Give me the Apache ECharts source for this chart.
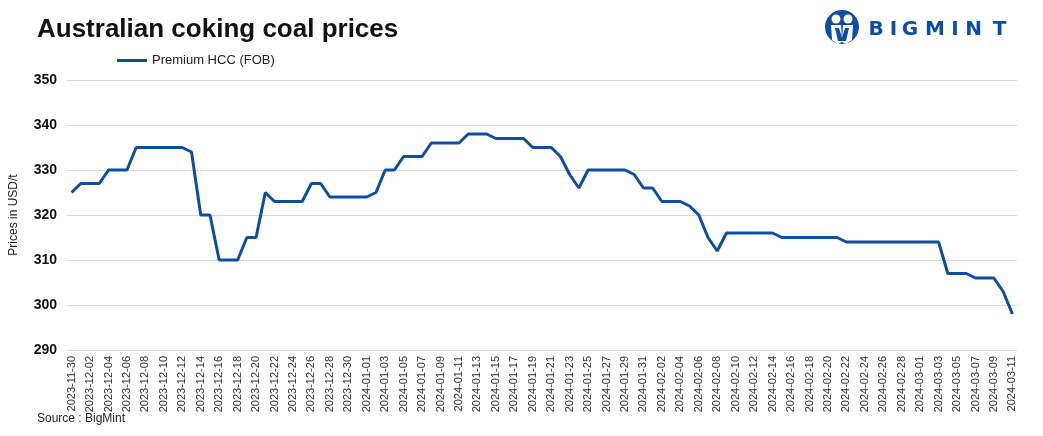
<!DOCTYPE html>
<html><head><meta charset="utf-8">
<script src="https://cdn.jsdelivr.net/npm/echarts@6/dist/echarts.min.js"></script>
<style>html,body{margin:0;padding:0;background:#fff}#c{width:1043px;height:436px}</style>
</head><body><div id="c"></div>
<script>
const startDate = '2023-11-30';
const dayCount = 103;
const seriesName = 'Premium HCC (FOB)';
const prices = [325,327,327,327,330,330,330,335,335,335,335,335,335,334,320,320,310,310,310,315,315,325,323,323,323,323,327,327,324,324,324,324,324,325,330,330,333,333,333,336,336,336,336,338,338,338,337,337,337,337,335,335,335,333,329,326,330,330,330,330,330,329,326,326,323,323,323,322,320,315,312,316,316,316,316,316,316,315,315,315,315,315,315,315,314,314,314,314,314,314,314,314,314,314,314,307,307,307,306,306,306,303,298];
const yTicks = [290,300,310,320,330,340,350];
const logoLetters = ['B','I','G','M','I','N','T'];

function buildDates(start, n){
  const out=[]; const d=new Date(start+'T00:00:00Z');
  for(let i=0;i<n;i++){ const x=new Date(d.getTime()+i*86400000); out.push(x.toISOString().slice(0,10)); }
  return out;
}
const categories = buildDates(startDate, dayCount);

const chart = echarts.init(document.getElementById('c'));
const blue = '#0b4ea2';
const letterX = [876,893.5,910,935,955,973.5,999.5];
const logoText = logoLetters.map((ch,i)=>({type:'text',x:letterX[i],y:30,style:{text:ch,fontSize:20,fontWeight:'bold',fill:blue,align:'center',verticalAlign:'middle',fontFamily:'DejaVu Sans, Arial, sans-serif'}}));
chart.setOption({
  animation:false,
  textStyle:{fontFamily:'Liberation Sans, Arial, sans-serif'},
  title:{text:'Australian coking coal prices',left:32,top:12,textStyle:{fontSize:26,fontWeight:'bold',color:'#111',fontFamily:'Liberation Sans, Arial, sans-serif'}},
  legend:{data:[seriesName],left:112,top:49,itemWidth:30,itemHeight:3,icon:'rect',itemGap:8,textStyle:{fontSize:13,color:'#222'}},
  grid:{left:67,right:26,top:80,bottom:86},
  xAxis:{type:'category',data:categories,boundaryGap:true,
    axisLine:{show:false},axisTick:{show:false},
    axisLabel:{interval:1,rotate:90,fontSize:11,color:'#333',margin:6}},
  yAxis:{type:'value',min:yTicks[0],max:yTicks[yTicks.length-1],interval:10,
    name:'Prices in USD/t',nameLocation:'middle',nameGap:47,nameTextStyle:{fontSize:12,color:'#222'},
    axisLine:{show:false},axisTick:{show:false},
    axisLabel:{fontSize:14,fontWeight:'bold',color:'#111',margin:10},
    splitLine:{lineStyle:{color:'#d9d9d9',width:1}}},
  series:[{name:seriesName,type:'line',data:prices,symbol:'none',lineStyle:{color:blue,width:3},itemStyle:{color:blue}}],
  graphic:[
    {type:'text',left:37,top:413,style:{text:'Source : BigMint',fontSize:12,fill:'#222',fontFamily:'Liberation Sans, Arial, sans-serif'}},
    {type:'group',left:825,top:10,children:[
      {type:'circle',shape:{cx:17,cy:17,r:17},style:{fill:blue}},
      {type:'circle',shape:{cx:11,cy:9,r:4.5},style:{fill:'#fff'}},
      {type:'circle',shape:{cx:23,cy:9,r:4.5},style:{fill:'#fff'}},
      {type:'polygon',shape:{points:[[6,15],[16,15],[17,32],[13,34],[7,30]]},style:{fill:'#fff'}},
      {type:'polygon',shape:{points:[[18,15],[28,15],[27,30],[21,34],[17,32]]},style:{fill:'#fff'}},
      {type:'polygon',shape:{points:[[10,18],[14,18],[17,28],[20,18],[24,18],[21,31],[13,31]]},style:{fill:blue}}
    ]}
  ].concat(logoText)
});
</script></body></html>
